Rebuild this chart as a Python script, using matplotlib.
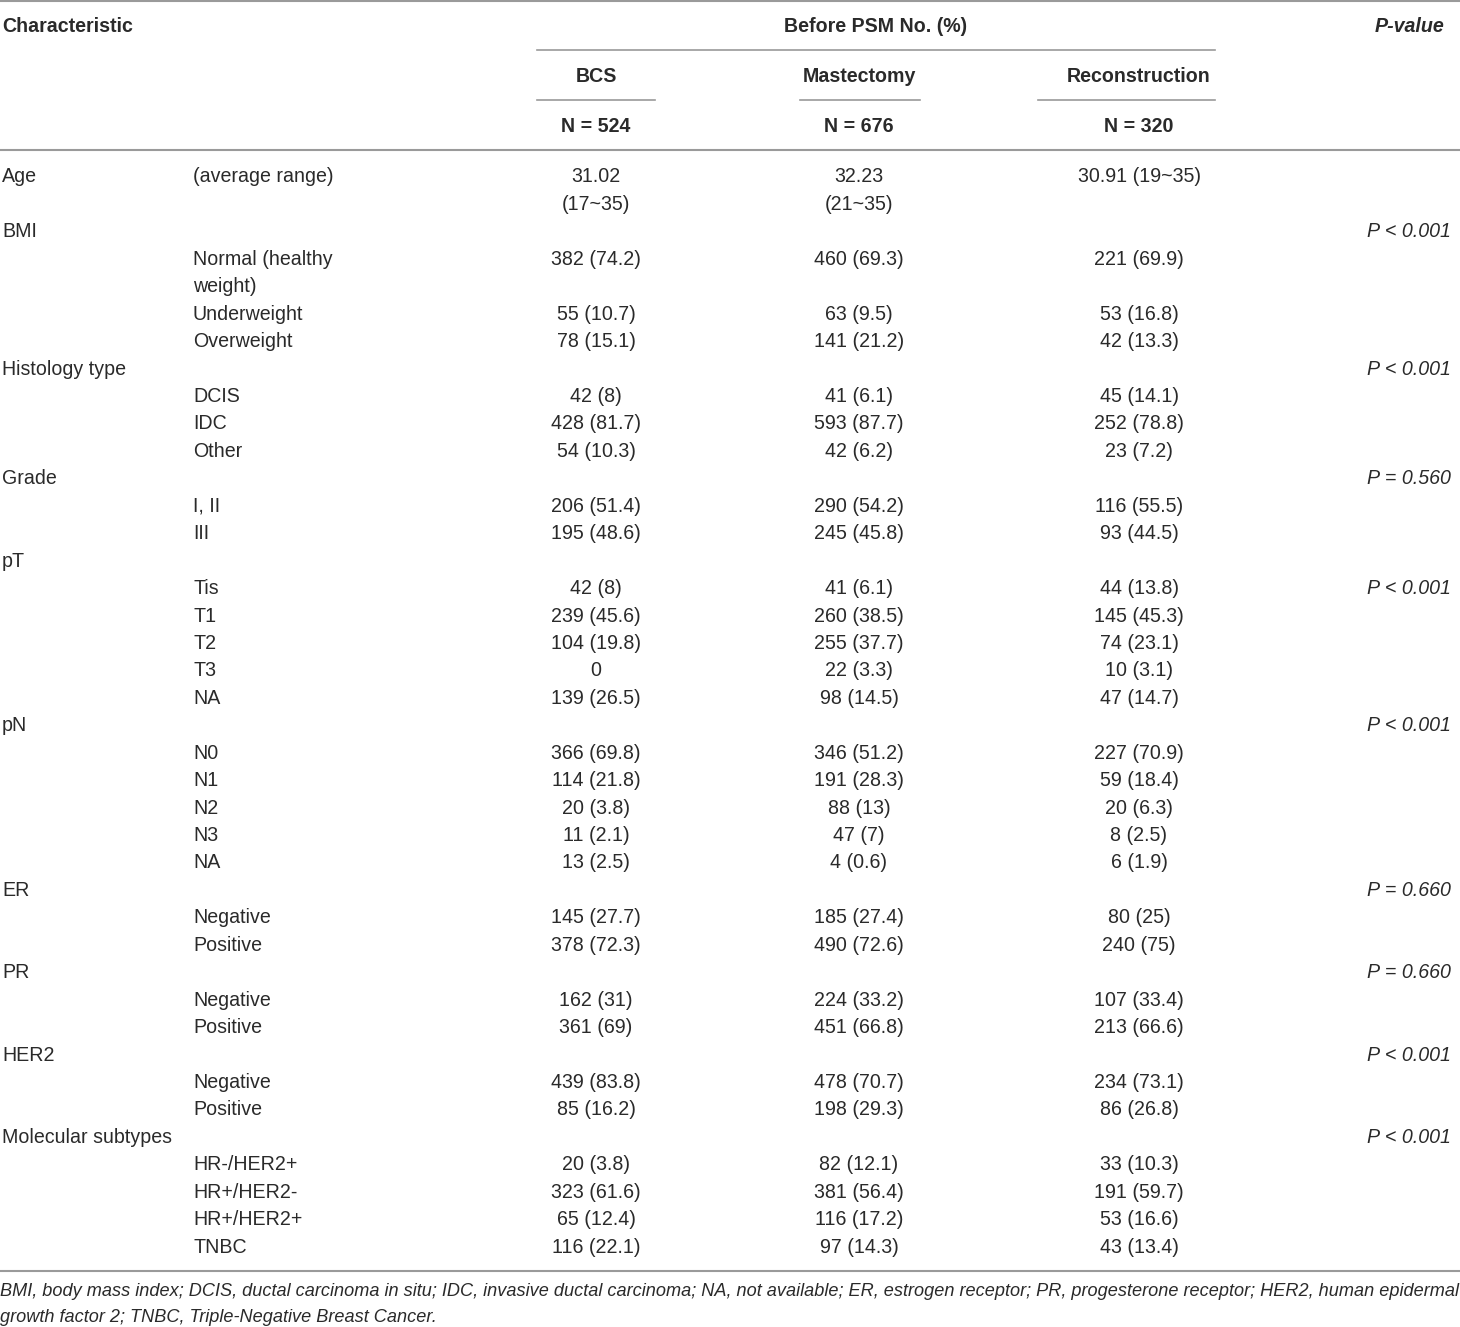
import matplotlib
matplotlib.use("Agg")
import matplotlib.pyplot as plt

plt.rcParams['font.family'] = ['Liberation Sans', 'DejaVu Sans']

# table data
group_names = ["Age", "BMI", "Histology type", "Grade", "pT", "pN", "ER", "PR",
               "HER2", "Molecular subtypes"]
group_pvalues = ["", "P < 0.001", "P < 0.001", "P = 0.560", "P < 0.001", "P < 0.001",
                 "P = 0.660", "P = 0.660", "P < 0.001", "P < 0.001"]
# pT has its p-value printed on the first level row
pvalue_on_level = [False, False, False, False, True, False, False, False, False, False]

group_levels = [
    ["(average range)"],
    ["Normal (healthy\nweight)", "Underweight", "Overweight"],
    ["DCIS", "IDC", "Other"],
    ["I, II", "III"],
    ["Tis", "T1", "T2", "T3", "NA"],
    ["N0", "N1", "N2", "N3", "NA"],
    ["Negative", "Positive"],
    ["Negative", "Positive"],
    ["Negative", "Positive"],
    ["HR-/HER2+", "HR+/HER2-", "HR+/HER2+", "TNBC"],
]
bcs = [
    ["31.02\n(17~35)"],
    ["382 (74.2)", "55 (10.7)", "78 (15.1)"],
    ["42 (8)", "428 (81.7)", "54 (10.3)"],
    ["206 (51.4)", "195 (48.6)"],
    ["42 (8)", "239 (45.6)", "104 (19.8)", "0", "139 (26.5)"],
    ["366 (69.8)", "114 (21.8)", "20 (3.8)", "11 (2.1)", "13 (2.5)"],
    ["145 (27.7)", "378 (72.3)"],
    ["162 (31)", "361 (69)"],
    ["439 (83.8)", "85 (16.2)"],
    ["20 (3.8)", "323 (61.6)", "65 (12.4)", "116 (22.1)"],
]
mastectomy = [
    ["32.23\n(21~35)"],
    ["460 (69.3)", "63 (9.5)", "141 (21.2)"],
    ["41 (6.1)", "593 (87.7)", "42 (6.2)"],
    ["290 (54.2)", "245 (45.8)"],
    ["41 (6.1)", "260 (38.5)", "255 (37.7)", "22 (3.3)", "98 (14.5)"],
    ["346 (51.2)", "191 (28.3)", "88 (13)", "47 (7)", "4 (0.6)"],
    ["185 (27.4)", "490 (72.6)"],
    ["224 (33.2)", "451 (66.8)"],
    ["478 (70.7)", "198 (29.3)"],
    ["82 (12.1)", "381 (56.4)", "116 (17.2)", "97 (14.3)"],
]
reconstruction = [
    ["30.91 (19~35)"],
    ["221 (69.9)", "53 (16.8)", "42 (13.3)"],
    ["45 (14.1)", "252 (78.8)", "23 (7.2)"],
    ["116 (55.5)", "93 (44.5)"],
    ["44 (13.8)", "145 (45.3)", "74 (23.1)", "10 (3.1)", "47 (14.7)"],
    ["227 (70.9)", "59 (18.4)", "20 (6.3)", "8 (2.5)", "6 (1.9)"],
    ["80 (25)", "240 (75)"],
    ["107 (33.4)", "213 (66.6)"],
    ["234 (73.1)", "86 (26.8)"],
    ["33 (10.3)", "191 (59.7)", "53 (16.6)", "43 (13.4)"],
]
arm_names = ["BCS", "Mastectomy", "Reconstruction"]
arm_n = ["N = 524", "N = 676", "N = 320"]
footnote = ("BMI, body mass index; DCIS, ductal carcinoma in situ; IDC, invasive ductal carcinoma; "
            "NA, not available; ER, estrogen receptor; PR, progesterone receptor; HER2, human epidermal\n"
            "growth factor 2; TNBC, Triple-Negative Breast Cancer.")

W, H = 1460, 1327
fig = plt.figure(figsize=(W / 100, H / 100), dpi=100)
ax = fig.add_axes([0, 0, 1, 1])
ax.set_xlim(0, W)
ax.set_ylim(H, 0)
ax.axis('off')

txt = '#2a2a2a'
rule = '#9a9a9a'
fs = 14.1

x_char, x_level = 2, 193
x_arms = [596, 859, 1139]
x_p = 1451
arm_spans = [(537, 655), (800, 920), (1038, 1215)]

# rules
ax.plot([0, W], [1, 1], color=rule, lw=1.5)
ax.plot([537, 1215], [50, 50], color=rule, lw=1.2)
for a, b in arm_spans:
    ax.plot([a, b], [100, 100], color=rule, lw=1.2)
ax.plot([0, W], [150, 150], color=rule, lw=1.5)
ax.plot([0, W], [1271, 1271], color=rule, lw=1.5)

# header
ax.text(x_char, 27, "Characteristic", fontsize=fs, fontweight='bold', color=txt,
        ha='left', va='center')
ax.text(876, 27, "Before PSM No. (%)", fontsize=fs, fontweight='bold', color=txt,
        ha='center', va='center')
ax.text(1444, 27, "P-value", fontsize=fs, fontweight='bold', style='italic', color=txt,
        ha='right', va='center')
for x, name, n in zip(x_arms, arm_names, arm_n):
    ax.text(x, 77, name, fontsize=fs, fontweight='bold', color=txt, ha='center', va='center')
    ax.text(x, 127, n, fontsize=fs, fontweight='bold', color=txt, ha='center', va='center')

# body
y0, dy = 177, 27.44
line = 0


def put(x, li, s, ha, **kw):
    for k, part in enumerate(s.split("\n")):
        ax.text(x, y0 + (li + k) * dy, part, fontsize=fs, color=txt, ha=ha, va='center', **kw)


for g, name in enumerate(group_names):
    put(x_char, line, name, 'left')
    same_line = (g == 0)
    if not same_line:
        if not pvalue_on_level[g] and group_pvalues[g]:
            put(x_p, line, group_pvalues[g], 'right', style='italic')
        line += 1
    for j, lev in enumerate(group_levels[g]):
        cells = [bcs[g][j], mastectomy[g][j], reconstruction[g][j]]
        put(x_level, line, lev, 'left')
        for x, c in zip(x_arms, cells):
            put(x, line, c, 'center')
        if pvalue_on_level[g] and j == 0:
            put(x_p, line, group_pvalues[g], 'right', style='italic')
        nl = max(s.count("\n") for s in [lev] + cells) + 1
        line += nl

for k, part in enumerate(footnote.split("\n")):
    ax.text(0, 1291 + k * 26, part, fontsize=13.1, style='italic', color=txt,
            ha='left', va='center')

fig.savefig("out.png", dpi=100)
